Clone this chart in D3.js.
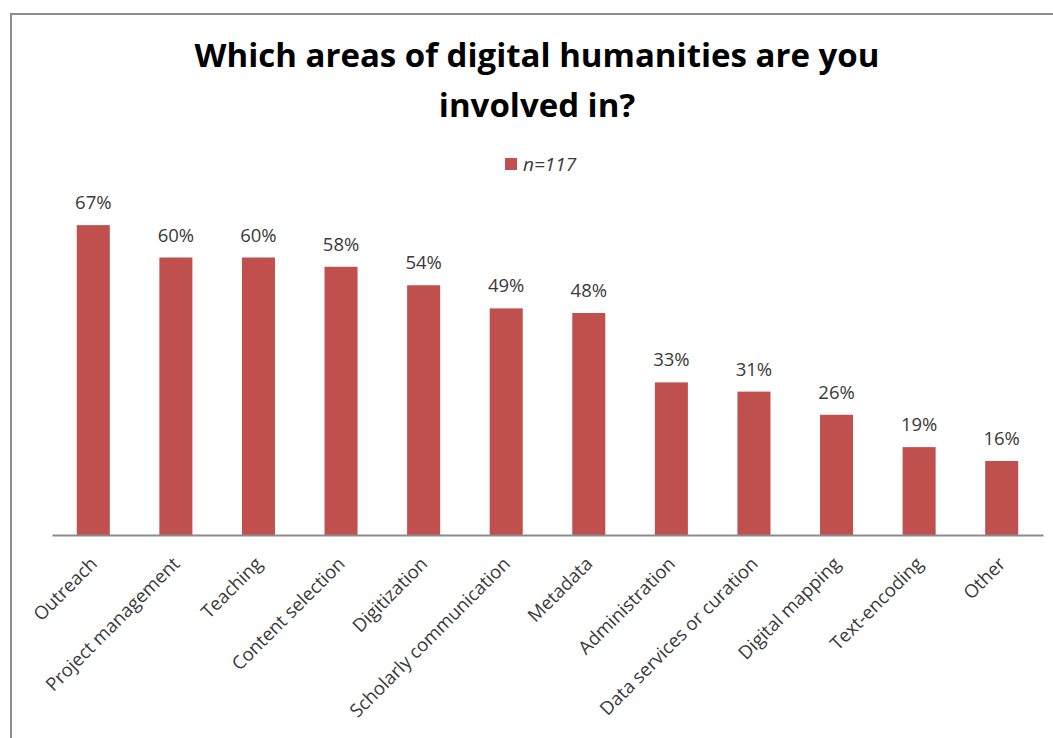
<!DOCTYPE html>
<html>
<head>
<meta charset="utf-8">
<script src="https://cdn.jsdelivr.net/npm/d3@7"></script>
<style>
  html, body { margin: 0; padding: 0; background: #fff; }
  svg { display: block; }
</style>
</head>
<body>
<div id="chart"></div>
<script>
// Survey: areas of digital humanities respondents are involved in
const categories = [
  "Outreach", "Project management", "Teaching", "Content selection",
  "Digitization", "Scholarly communication", "Metadata", "Administration",
  "Data services or curation", "Digital mapping", "Text-encoding", "Other"
];
const values = [67, 60, 60, 58, 54, 49, 48, 33, 31, 26, 19, 16];
const titleLines = ["Which areas of digital humanities are you", "involved in?"];
const seriesName = "n=117";

const W = 1053, H = 738;
const barColor = "#C0504D";
const textColor = "#3a3a3a";

const svg = d3.select("#chart").append("svg")
  .attr("width", W).attr("height", H);

// chart frame (top and left edges)
svg.append("path")
  .attr("d", `M11,${H} L11,14 L${W},14`)
  .attr("fill", "none")
  .attr("stroke", "#8c8c8c")
  .attr("stroke-width", 2);

const x = d3.scaleBand()
  .domain(categories)
  .range([52, 1043])
  .paddingInner(0.6)
  .paddingOuter(0.3);

const y = d3.scaleLinear()
  .domain([0, 80])
  .range([535, 165]);

// title
svg.append("text")
  .attr("text-anchor", "middle")
  .style("font-family", "'Open Sans', sans-serif")
  .style("font-weight", "bold")
  .style("font-size", "33px")
  .attr("fill", "#000")
  .selectAll("tspan")
  .data(titleLines)
  .join("tspan")
  .attr("x", 537)
  .attr("y", (d, i) => 67 + i * 50)
  .text(d => d);

// legend
const legend = svg.append("g").attr("transform", "translate(505,158)");
legend.append("rect")
  .attr("width", 12).attr("height", 12)
  .attr("fill", barColor);
legend.append("text")
  .attr("x", 18).attr("y", 12.5)
  .style("font-family", "'Open Sans', sans-serif")
  .style("font-style", "italic")
  .style("font-size", "19px")
  .attr("fill", textColor)
  .text(seriesName);

// bars
const data = categories.map((c, i) => ({ c, v: values[i] }));

svg.append("g")
  .selectAll("rect")
  .data(data)
  .join("rect")
  .attr("x", d => x(d.c))
  .attr("y", d => y(d.v))
  .attr("width", x.bandwidth())
  .attr("height", d => y(0) - y(d.v))
  .attr("fill", barColor);

// value labels
svg.append("g")
  .selectAll("text")
  .data(data)
  .join("text")
  .attr("x", d => x(d.c) + x.bandwidth() / 2)
  .attr("y", d => y(d.v) - 16)
  .attr("text-anchor", "middle")
  .style("font-family", "'Open Sans', sans-serif")
  .style("font-size", "18.5px")
  .attr("fill", textColor)
  .text(d => d.v + "%");

// category axis
const xAxis = svg.append("g")
  .attr("transform", `translate(0,${y(0)})`)
  .call(d3.axisBottom(x).tickSize(0).tickSizeOuter(0));

xAxis.select(".domain")
  .attr("stroke", "#8c8c8c")
  .attr("stroke-width", 2);

xAxis.selectAll(".tick text")
  .style("font-family", "'Open Sans', sans-serif")
  .style("font-size", "18.5px")
  .attr("fill", textColor)
  .attr("text-anchor", "end")
  .attr("dy", null)
  .attr("y", 0)
  .attr("transform", "translate(5,30) rotate(-45)");
</script>
</body>
</html>
